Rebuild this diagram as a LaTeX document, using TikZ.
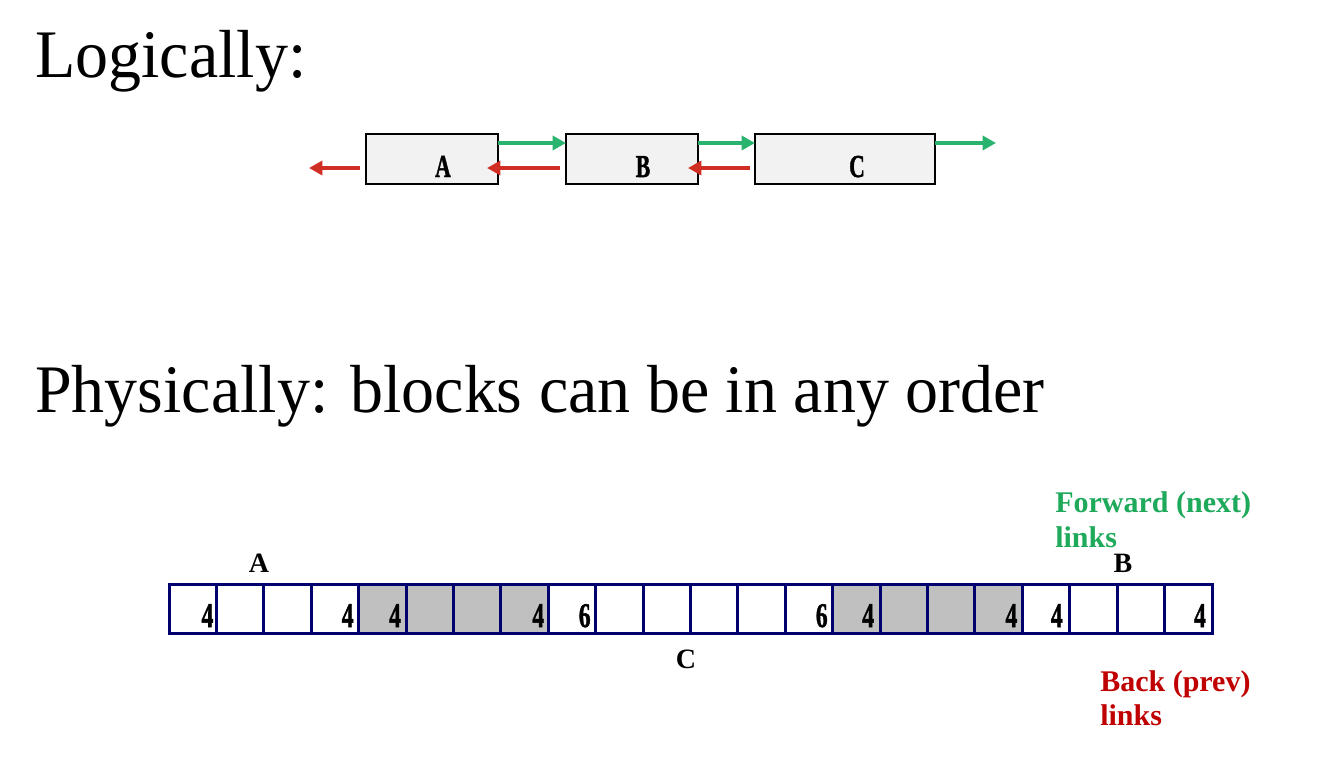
\documentclass[tikz,border=0pt]{standalone}
\usepackage{fontspec}
\setmainfont{Liberation Serif}
\newfontfamily\heavyserif{Liberation Serif}[BoldFeatures={FakeBold=1.5}]
\usetikzlibrary{calc,arrows.meta}
\definecolor{fwd}{RGB}{40,180,110}
\definecolor{bwd}{RGB}{208,45,35}
\definecolor{fwdtxt}{RGB}{30,170,90}
\definecolor{bwdtxt}{RGB}{192,0,0}
\definecolor{navy}{RGB}{0,0,110}
\definecolor{boxfill}{RGB}{242,242,242}
\definecolor{cellgray}{RGB}{192,192,192}
\tikzset{
  titletext/.style={font=\fontsize{51}{61}\selectfont, anchor=base west, inner sep=0pt, xscale=0.97},
  lbox/.style={draw=black, line width=1.5pt, fill=boxfill, minimum height=37.5pt, inner sep=0pt, outer sep=0pt},
  boxlbl/.style={font=\heavyserif\fontsize{24}{28}\selectfont\bfseries, anchor=base, inner sep=0pt, xscale=0.68},
  fwdarrow/.style={draw=fwd, line width=3pt, -{Triangle[length=10pt,width=10.5pt]}},
  bwdarrow/.style={draw=bwd, line width=3pt, -{Triangle[length=10pt,width=10.5pt]}},
  cellbox/.style={draw=navy, line width=2.25pt, minimum width=35.56pt, minimum height=36.75pt, inner sep=0pt, outer sep=0pt},
  numtxt/.style={font=\heavyserif\fontsize{26}{30}\selectfont\bfseries, anchor=base, inner sep=0pt, xscale=0.68},
  blocklbl/.style={font=\fontsize{21}{25}\selectfont\bfseries, anchor=base, inner sep=0pt},
  fwdlbl/.style={font=\fontsize{22.5}{26}\selectfont\bfseries, text=fwdtxt, anchor=base west, inner sep=0pt},
  bwdlbl/.style={font=\fontsize{22.5}{26}\selectfont\bfseries, text=bwdtxt, anchor=base west, inner sep=0pt},
}
\begin{document}
\begin{tikzpicture}[x=0.75pt,y=-0.75pt]
\useasboundingbox[fill=white] (0,0) rectangle (1320,768);

% titles
\node[titletext] (t1) at (35,77) {Logically:};
\node[titletext] (t2) at (35,412) {Physically: blocks can be in any order};

% logical list
\node[lbox, minimum width=99pt] (boxA) at (432,159) {};
\node[lbox, minimum width=99pt] (boxB) at (632,159) {};
\node[lbox, minimum width=135pt] (boxC) at (845,159) {};
\node[boxlbl] (lA) at (443,177) {A};
\node[boxlbl] (lB) at (643,177) {B};
\node[boxlbl] (lC) at (857,177) {C};

\coordinate (fend) at (996,143);
\coordinate (bend) at (309,168);
\draw[fwdarrow] ($(boxA.north east)+(0,9)$) -- ($(boxB.north west)+(0,9)$);
\draw[fwdarrow] ($(boxB.north east)+(0,9)$) -- ($(boxC.north west)+(0,9)$);
\draw[fwdarrow] ($(boxC.north east)+(0,9)$) -- (fend);
\draw[bwdarrow] ($(boxB.north west)+(-6,34)$) -- ($(boxA.north east)+(-11,34)$);
\draw[bwdarrow] ($(boxC.north west)+(-5,34)$) -- ($(boxB.north east)+(-10,34)$);
\draw[bwdarrow] ($(boxA.north west)+(-6,34)$) -- (bend);

% physical strip
\foreach \i in {1,...,22}{
  \pgfmathsetmacro{\cx}{169+47.41*(\i-0.5)}
  \node[cellbox] (c\i) at (\cx,608.5) {};
}
\foreach \i in {5,6,7,8,15,16,17,18}{
  \fill[cellgray] ($(c\i.north west)+(1.5,1.5)$) rectangle ($(c\i.south east)+(-1.5,-1.5)$);
}
\foreach \i in {1,...,22}{
  \draw[navy, line width=2.25pt] (c\i.north west) rectangle (c\i.south east);
}
\foreach \i/\n/\dx in {1/4/-9,4/4/-11,5/4/-11,8/4/-10,9/6/-11,14/6/-11,15/4/-12,18/4/-11,19/4/-13,22/4/-12}{
  \node[numtxt] (n\i) at ($(c\i.east)+(\dx,18.5)$) {\n};
}

\node[blocklbl] (pA) at (259,572) {A};
\node[blocklbl] (pB) at (1123,572) {B};
\node[blocklbl] (pC) at (686,668) {C};

\node[fwdlbl] (fw1) at (1055,512) {Forward (next)};
\node[fwdlbl] (fw2) at (1055,547) {links};
\node[bwdlbl] (bk1) at (1100,691) {Back (prev)};
\node[bwdlbl] (bk2) at (1100,725) {links};
\end{tikzpicture}
\end{document}
